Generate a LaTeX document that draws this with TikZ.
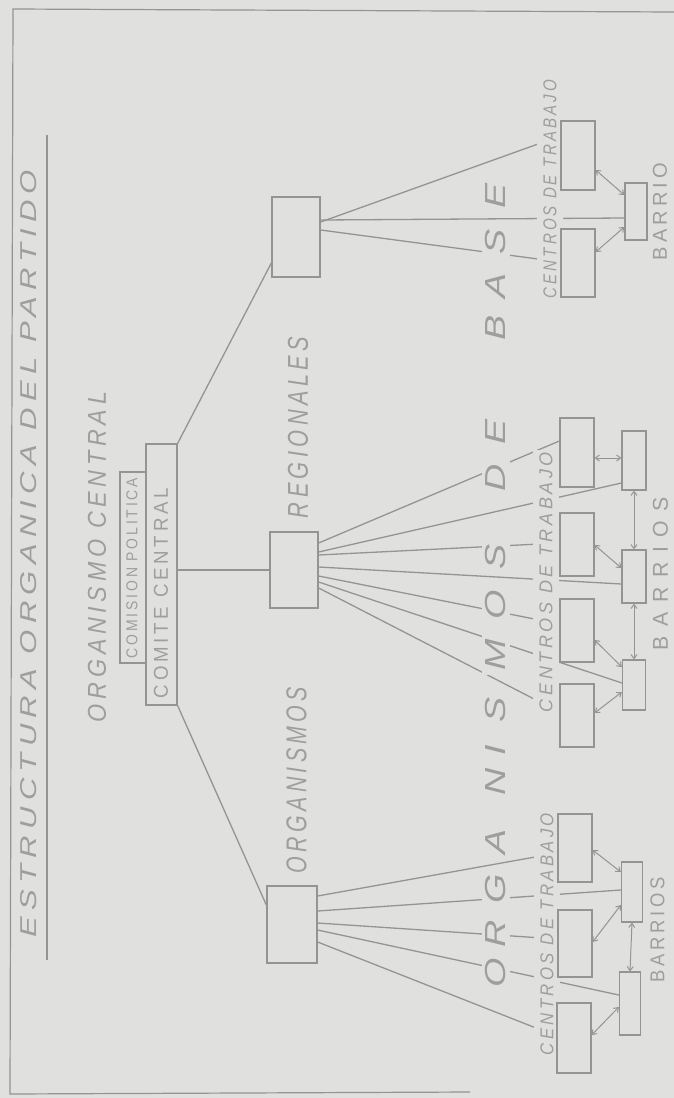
\documentclass[tikz,border=0pt]{standalone}
\usepackage{fontspec}
\usepackage{graphicx}
\usetikzlibrary{arrows.meta}

\newfontfamily\handfont[LetterSpace=20]{Liberation Sans}
\newfontfamily\spacedfont[LetterSpace=45]{Liberation Sans}
\newfontfamily\bigfont[FakeStretch=1.3]{Liberation Sans}

\definecolor{paper}{RGB}{224,224,222}
\definecolor{ink}{RGB}{148,148,148}
\definecolor{lettering}{RGB}{158,158,158}

% fit a label to a measured length and cap height (in px = pt)
\newcommand{\fitlabel}[3]{\resizebox{#1pt}{#2pt}{#3}}

\pgfdeclarelayer{back}
\pgfsetlayers{back,main}

\begin{document}
\begin{tikzpicture}[
  x=1pt, y=-1pt,
  box/.style={draw=ink,line width=1.3pt,inner sep=0pt},
  pencil/.style={draw=ink,line width=1.3pt},
  twoway/.style={draw=ink,line width=1pt,
                 {Straight Barb[length=4pt,width=6pt]}-{Straight Barb[length=4pt,width=6pt]}},
  lbl/.style={rotate=90,inner sep=0pt,text=lettering},
  cover/.style={lbl,fill=paper,inner xsep=2pt,inner ysep=6pt},
  bigletter/.style={rotate=90,inner sep=4pt,minimum width=34pt,fill=paper,text=lettering,
                    font=\bigfont\itshape\fontsize{29}{29}\selectfont},
]
\useasboundingbox (0,0) rectangle (674,1098);

%% ===== Lettering =============================================================
\node[lbl] (title) at (29,553.5)
  {\fitlabel{767}{16}{\handfont\itshape ESTRUCTURA ORGANICA DEL PARTIDO}};
\node[lbl] (central) at (97,557)
  {\fitlabel{330}{18}{\handfont\itshape ORGANISMO CENTRAL}};
\node[lbl] (comisiontxt) at (132,568)
  {\fitlabel{180}{11}{\handfont COMISION POLITICA}};
\node[lbl] (comitetxt) at (161,593)
  {\fitlabel{210}{14}{\handfont COMITE CENTRAL}};
\node[lbl] (regionales) at (298,427.5)
  {\fitlabel{181}{20}{\handfont\itshape REGIONALES}};
\node[lbl] (organismos) at (296.5,780)
  {\fitlabel{186}{20}{\handfont\itshape ORGANISMOS}};

\node[cover] (ctlabelA) at (550,189)
  {\fitlabel{218}{13}{\handfont\itshape CENTROS DE TRABAJO}};
\node[cover] (ctlabelB) at (546,582)
  {\fitlabel{260}{13}{\handfont\itshape CENTROS DE TRABAJO}};
\node[cover] (ctlabelC) at (547,934)
  {\fitlabel{242}{13}{\handfont\itshape CENTROS DE TRABAJO}};

\node[lbl] (barrioA) at (660,211.5) {\fitlabel{97}{14}{\handfont BARRIO}};
\node[lbl] (barrioB) at (660.5,573.5) {\fitlabel{153}{15}{\spacedfont BARRIOS}};
\node[lbl] (barrioC) at (657.5,929.5) {\fitlabel{105}{14}{\handfont BARRIOS}};

% big letters written across the fan lines
\foreach \ch/\yy [count=\i] in {O/973,R/934,G/889,A/842,N/782,I/750,S/710,M/655,
                                O/605,S/557,D/478,E/432,B/328,A/286,S/242,E/196}
  \node[bigletter] (big\i) at (496,\yy) {\ch};

%% ===== Boxes =================================================================
\node[box,minimum width=31pt,minimum height=261pt] (comite)   at (161.5,574.5) {};
\node[box,minimum width=26pt,minimum height=191pt] (comision) at (133,567.5) {};

\node[box,minimum width=48pt,minimum height=80pt] (topbox) at (296,237) {};
\node[box,minimum width=48pt,minimum height=76pt] (midbox) at (294,570) {};
\node[box,minimum width=50pt,minimum height=77pt] (botbox) at (292,924.5) {};

% top group
\node[box,minimum width=34pt,minimum height=69pt] (ct1) at (578,155.5) {};
\node[box,minimum width=34pt,minimum height=68pt] (ct2) at (578,263) {};
\node[box,minimum width=22pt,minimum height=57pt] (bt)  at (636,211.5) {};

% middle group
\node[box,minimum width=34pt,minimum height=69pt] (cm1) at (577,452.5) {};
\node[box,minimum width=34pt,minimum height=63pt] (cm2) at (577,544.5) {};
\node[box,minimum width=34pt,minimum height=63pt] (cm3) at (577,630.5) {};
\node[box,minimum width=34pt,minimum height=63pt] (cm4) at (577,715.5) {};
\node[box,minimum width=24pt,minimum height=59pt] (bm1) at (634,460.5) {};
\node[box,minimum width=24pt,minimum height=53pt] (bm2) at (634,576.5) {};
\node[box,minimum width=23pt,minimum height=50pt] (bm3) at (634,685) {};

% bottom group
\node[box,minimum width=34pt,minimum height=68pt] (cb1) at (575,848) {};
\node[box,minimum width=34pt,minimum height=67pt] (cb2) at (575,943.5) {};
\node[box,minimum width=34pt,minimum height=70pt] (cb3) at (574,1038) {};
\node[box,minimum width=21pt,minimum height=60pt] (bb1) at (632,892) {};
\node[box,minimum width=21pt,minimum height=63pt] (bb2) at (630,1003.5) {};

%% ===== Paper, frame and connectors (under the lettering) =====================
\begin{pgfonlayer}{back}
\fill[paper] (0,0) rectangle (674,1098);
\draw[ink,line width=1.2pt] (674,12) -- (13,9) -- (10,1094) -- (470,1092);
\draw[pencil] (47,135) -- (47,960);

\draw[pencil] (comite.north east) -- (topbox.west |- 0,263);
\draw[pencil] (comite.east |- midbox.west) -- (midbox.west);
\draw[pencil] (comite.south east) -- (botbox.west |- 0,905);

\foreach \from/\to/\ty in {222/ct1/136,220/bt/218,230/ct2/262}
  \draw[pencil] (topbox.east |- 0,\from) -- (\to.west |- 0,\ty);
\foreach \from/\to/\ty in {543/cm1/441,552/bm1/483,555/cm2/543,567/bm2/584,
                           576/cm3/624,582/bm3/683,588/cm4/712}
  \draw[pencil] (midbox.east |- 0,\from) -- (\to.west |- 0,\ty);
\foreach \from/\to/\ty in {896/cb1/853,911/bb1/890,923/cb2/939,930/bb2/995,942/cb3/1036}
  \draw[pencil] (botbox.east |- 0,\from) -- (\to.west |- 0,\ty);

% centros <-> barrios
\draw[twoway] (ct1.east |- 0,170) -- (bt.west |- 0,195);
\draw[twoway] (ct2.east |- 0,252) -- (bt.west |- 0,227);

\draw[twoway] (cm1.east |- 0,458) -- (bm1.west |- 0,458);
\draw[twoway] (cm2.east |- 0,545) -- (bm2.west |- 0,568);
\draw[twoway] (cm3.east |- 0,640) -- (bm3.west |- 0,667);
\draw[twoway] (cm4.east |- 0,713) -- (bm3.west |- 0,692);
\draw[twoway] (bm1.south) -- (bm2.north);
\draw[twoway] (bm2.south) -- (bm3.north);

\draw[twoway] (cb1.east |- 0,850) -- (bb1.west |- 0,872);
\draw[twoway] (cb2.east |- 0,942) -- (bb1.west |- 0,905);
\draw[twoway] (cb3.east |- 0,1035) -- (bb2.west |- 0,1007);
\draw[twoway] (bb1.south) -- (bb2.north);
\end{pgfonlayer}

\end{tikzpicture}
\end{document}
